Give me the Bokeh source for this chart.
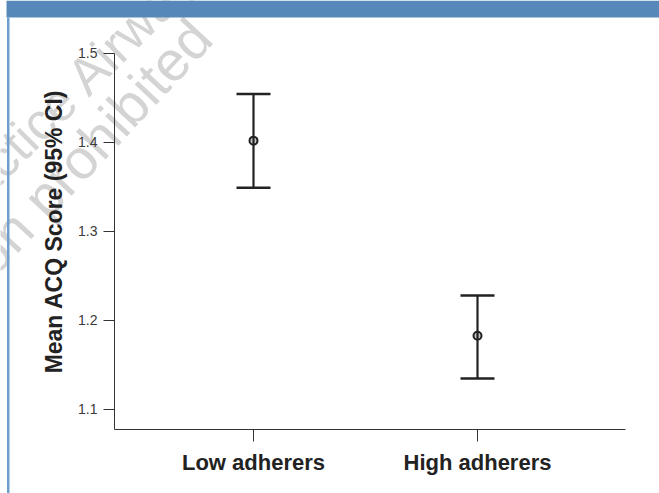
import math

from bokeh.embed import file_html
from bokeh.models import (BoxAnnotation, ColumnDataSource, FixedTicker, Label,
                          LinearAxis, TeeHead, Whisker)
from bokeh.plotting import figure
from bokeh.resources import INLINE

# Mean ACQ score with 95% confidence interval per adherence group
groups = ["Low adherers", "High adherers"]
group_pos = [1, 2]
mean_acq = [1.402, 1.1825]
ci_lower = [1.349, 1.1345]
ci_upper = [1.4545, 1.228]
y_ticks = [1.1, 1.2, 1.3, 1.4, 1.5]

FONT = "Liberation Sans"
W, H = 659, 493

# the frame fills the whole canvas; axes sit at fixed data positions inside it
X_RANGE = (-0.1295, 2.8125)
Y_RANGE = (1.0052, 1.5596)
X_AXIS_SPAN = (0.3795, 2.6607)
Y_AXIS_SPAN = (1.0772, 1.5)

src = ColumnDataSource(dict(x=group_pos, mean=mean_acq, lo=ci_lower, hi=ci_upper))

p = figure(width=W, height=H, output_backend="svg", toolbar_location=None,
           x_range=X_RANGE, y_range=Y_RANGE, x_axis_type=None, y_axis_type=None,
           min_border=0)
p.outline_line_color = None
p.grid.visible = False
p.background_fill_color = "white"
p.border_fill_color = "white"


def scr(sx, sy):
    """Canvas pixel position (from top-left) -> screen units (from bottom-left)."""
    return sx, H - sy


# faint diagonal watermark behind the chart
for txt, (cx, cy), deg, size in [("General Practice Airways Group", (56, 104), 45, "52px"),
                                 ("Reproduction prohibited", (-2, 245), 47, "56px")]:
    fx, fy = scr(cx, cy)
    p.add_layout(Label(x=fx, y=fy, x_units="screen", y_units="screen", text=txt,
                       angle=math.radians(deg), text_align="center",
                       text_baseline="middle", text_font=FONT,
                       text_font_size=size, text_color="#d4d4d4",
                       level="underlay"))

# axes
xaxis = LinearAxis(fixed_location=Y_AXIS_SPAN[0], bounds=X_AXIS_SPAN,
                   ticker=FixedTicker(ticks=group_pos),
                   major_label_overrides={pos: g for pos, g in zip(group_pos, groups)})
yaxis = LinearAxis(fixed_location=X_AXIS_SPAN[0], bounds=Y_AXIS_SPAN,
                   ticker=FixedTicker(ticks=y_ticks))
for ax in (xaxis, yaxis):
    ax.axis_line_color = "#333333"
    ax.axis_line_width = 1
    ax.major_tick_line_color = "#333333"
    ax.major_tick_line_width = 1
    ax.major_tick_in = 0
    ax.minor_tick_line_color = None
    ax.major_label_text_font = FONT

xaxis.major_tick_out = 12
xaxis.major_label_standoff = 9
xaxis.major_label_text_font_size = "22px"
xaxis.major_label_text_font_style = "bold"
xaxis.major_label_text_color = "#222222"

yaxis.major_tick_out = 11
yaxis.major_label_standoff = 6
yaxis.major_label_text_font_size = "14px"
yaxis.major_label_text_color = "#3a3a3a"

p.add_layout(xaxis, "below")
p.add_layout(yaxis, "left")

# y axis title
ax_x, ax_y = scr(53, 231)
p.add_layout(Label(x=ax_x, y=ax_y, x_units="screen", y_units="screen",
                   text="Mean ACQ Score (95% CI)", angle=math.pi / 2,
                   text_align="center", text_baseline="middle",
                   text_font=FONT, text_font_size="23px", text_font_style="bold",
                   text_color="#222222"))

# confidence intervals and means
p.add_layout(Whisker(source=src, base="x", lower="lo", upper="hi",
                     line_color="#222222", line_width=2.2,
                     lower_head=TeeHead(size=34, line_color="#222222", line_width=2.5),
                     upper_head=TeeHead(size=34, line_color="#222222", line_width=2.5),
                     level="glyph"))
p.scatter("x", "mean", source=src, size=8, fill_color="#c8c8c8",
          line_color="#222222", line_width=2)

# blue header band and left rule
hx0, hy0 = scr(6, 0)
hx1, hy1 = scr(W, 17)
p.add_layout(BoxAnnotation(left=hx0, right=hx1, top=hy0, bottom=hy1,
                           left_units="screen", right_units="screen",
                           top_units="screen", bottom_units="screen",
                           fill_color="#5689b9", fill_alpha=1, line_color=None,
                           level="overlay"))
lx0, ly0 = scr(6.5, 17)
lx1, ly1 = scr(9, H)
p.add_layout(BoxAnnotation(left=lx0, right=lx1, top=ly0, bottom=ly1,
                           left_units="screen", right_units="screen",
                           top_units="screen", bottom_units="screen",
                           fill_color="#6c9fd0", fill_alpha=1, line_color=None,
                           level="overlay"))

open("out.html", "w").write(file_html(p, INLINE))
